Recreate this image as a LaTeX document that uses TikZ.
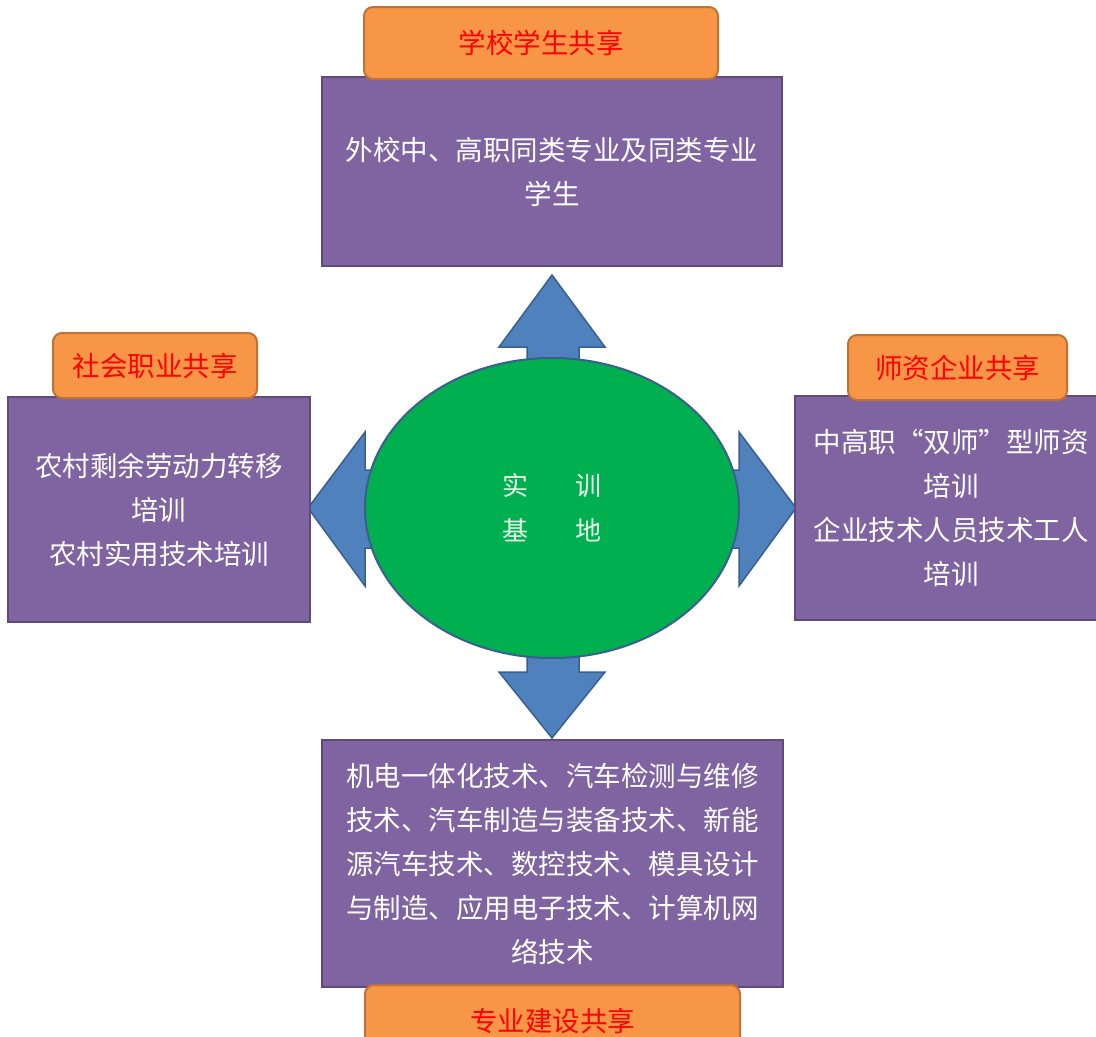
\documentclass[tikz,border=0pt]{standalone}
\usepackage{fontspec}
\newfontfamily\cjk{Noto Sans CJK SC}
\newfontfamily\cjkfw[RawFeature=+fwid]{Noto Sans CJK SC}
\usetikzlibrary{shapes.geometric}

\definecolor{boxpurple}{HTML}{8064A2}
\definecolor{boxedge}{HTML}{5E4A7C}
\definecolor{taborange}{HTML}{F79646}
\definecolor{tabedge}{HTML}{BF7233}
\definecolor{basegreen}{HTML}{00B050}
\definecolor{arrowblue}{HTML}{4F81BD}
\definecolor{arrowedge}{HTML}{3A5F8F}

\tikzset{
	sharebox/.style={draw=boxedge, fill=boxpurple, line width=2.5pt, text=white, align=center,
		font=\cjk\fontsize{27.5}{44}\selectfont, inner sep=0pt},
	sharetab/.style={draw=tabedge, fill=taborange, line width=2pt, rounded corners=9pt, text=red,
		font=\cjk\fontsize{27.5}{33}\selectfont, inner sep=0pt},
	blockarrow/.style={draw=arrowedge, fill=arrowblue, line width=1.5pt, line join=miter}
}

\begin{document}
\begin{tikzpicture}[x=1pt, y=-1pt]
			%%%%% START %%%%%
			\useasboundingbox (0, 0) rectangle (1096, 1037);
			\clip (0, 0) rectangle (1096, 1037);
			
			\draw[blockarrow] (552, 275) -- (605, 347) -- (579, 347) -- (579, 420) -- (527, 420) -- (527, 347) -- (499, 347) -- cycle;
			\draw[blockarrow] (552, 738) -- (605, 672) -- (579, 672) -- (579, 600) -- (527, 600) -- (527, 672) -- (499, 672) -- cycle;
			\draw[blockarrow] (308, 508) -- (365, 432) -- (365, 470) -- (430, 470) -- (430, 548) -- (365, 548) -- (365, 586) -- cycle;
			\draw[blockarrow] (796, 508) -- (739, 432) -- (739, 470) -- (675, 470) -- (675, 548) -- (739, 548) -- (739, 586) -- cycle;
			
			\node[ellipse, draw=arrowedge, fill=basegreen, line width=2pt, minimum width=374, minimum height=300,
				text=white!92!green, align=center, font=\cjk\fontsize{26}{45}\selectfont] (base) at (552, 508)
				{实\hspace{1.8em}训\\基\hspace{1.8em}地};
			
			\node[sharebox, minimum width=460, minimum height=189] (school) at (552, 171.5)
				{外校中、高职同类专业及同类专业\\学生};
			\node[sharetab, minimum width=354, minimum height=72] (schooltab) at (541, 43) {学校学生共享};
			
			\node[sharebox, minimum width=302, minimum height=225] (society) at (159, 509.5)
				{农村剩余劳动力转移\\培训\\农村实用技术培训};
			\node[sharetab, minimum width=204, minimum height=65] (societytab) at (155, 365.5) {社会职业共享};
			
			\node[sharebox, minimum width=312, minimum height=224] (teacher) at (951, 508)
				{中高职{\cjkfw “}双师{\cjkfw ”}型师资\\培训\\企业技术人员技术工人\\培训};
			\node[sharetab, minimum width=219, minimum height=65] (teachertab) at (957.5, 367.5) {师资企业共享};
			
			\node[sharebox, minimum width=461, minimum height=247] (major) at (552.5, 863.5)
				{机电一体化技术、汽车检测与维修\\技术、汽车制造与装备技术、新能\\源汽车技术、数控技术、模具设计\\与制造、应用电子技术、计算机网\\络技术};
			\node[sharetab, minimum width=375, minimum height=72] (majortab) at (552.5, 1021) {专业建设共享};
			
			%%%%% END %%%%%
		\end{tikzpicture}
\end{document}
